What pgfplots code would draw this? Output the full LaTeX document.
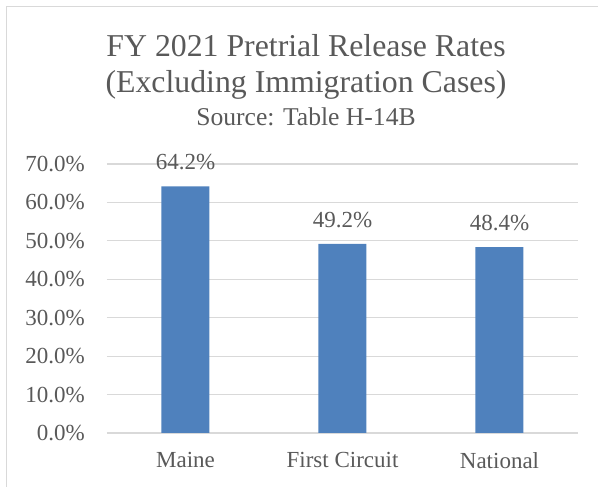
\documentclass[border=0pt]{standalone}
\usepackage{pgfplots}
\pgfplotsset{compat=1.18}
\usepackage{fontspec}
\setmainfont{Liberation Serif}
\definecolor{txt}{HTML}{595959}
\definecolor{gridc}{HTML}{D9D9D9}
\definecolor{barc}{HTML}{4F81BD}
\begin{document}
\begin{tikzpicture}[x=1pt,y=1pt]
\useasboundingbox (0,0) rectangle (598,487);
\draw[gridc, line width=1.5pt] (6.5,0) -- (6.5,480.5) -- (598,480.5);
\node[txt, anchor=base, font=\fontsize{31.8}{34}\selectfont] at (306,430) {FY 2021 Pretrial Release Rates};
\node[txt, anchor=base, font=\fontsize{31.8}{34}\selectfont] at (306,394) {(Excluding Immigration Cases)};
\node[txt, anchor=base, font=\fontsize{25.6}{28}\selectfont] at (306,361) {Source: Table H-14B};
\begin{axis}[
  at={(107pt,54pt)}, anchor=south west,
  scale only axis, width=471pt, height=269pt,
  xmin=-0.5, xmax=2.5, ymin=0, ymax=70,
  ytick={0,10,...,70},
  yticklabel={\pgfmathprintnumber[fixed,fixed zerofill,precision=1]{\tick}\%},
  xtick={0,1,2}, xticklabels={Maine,First Circuit,National},
  /pgf/number format/assume math mode=true,
  ymajorgrids, grid style={color=gridc, line width=1.2pt},
  axis line style={draw=none},
  major tick length=0pt,
  tick label style={txt, font=\fontsize{23}{25}\selectfont},
  yticklabel style={anchor=east, inner sep=0pt, xshift=-22pt},
  xticklabel style={anchor=north, inner sep=0pt, yshift=-19pt},
  ybar, bar width=48pt,
  nodes near coords={\pgfmathprintnumber[fixed,fixed zerofill,precision=1,assume math mode=true]{\pgfplotspointmeta}\%},
  nodes near coords style={txt, font=\fontsize{23}{25}\selectfont, anchor=south, inner sep=0pt, yshift=16pt},
  clip=false,
]
\addplot[fill=barc, draw=none] coordinates {(0,64.2) (1,49.2) (2,48.4)};
\end{axis}
\end{tikzpicture}
\end{document}
